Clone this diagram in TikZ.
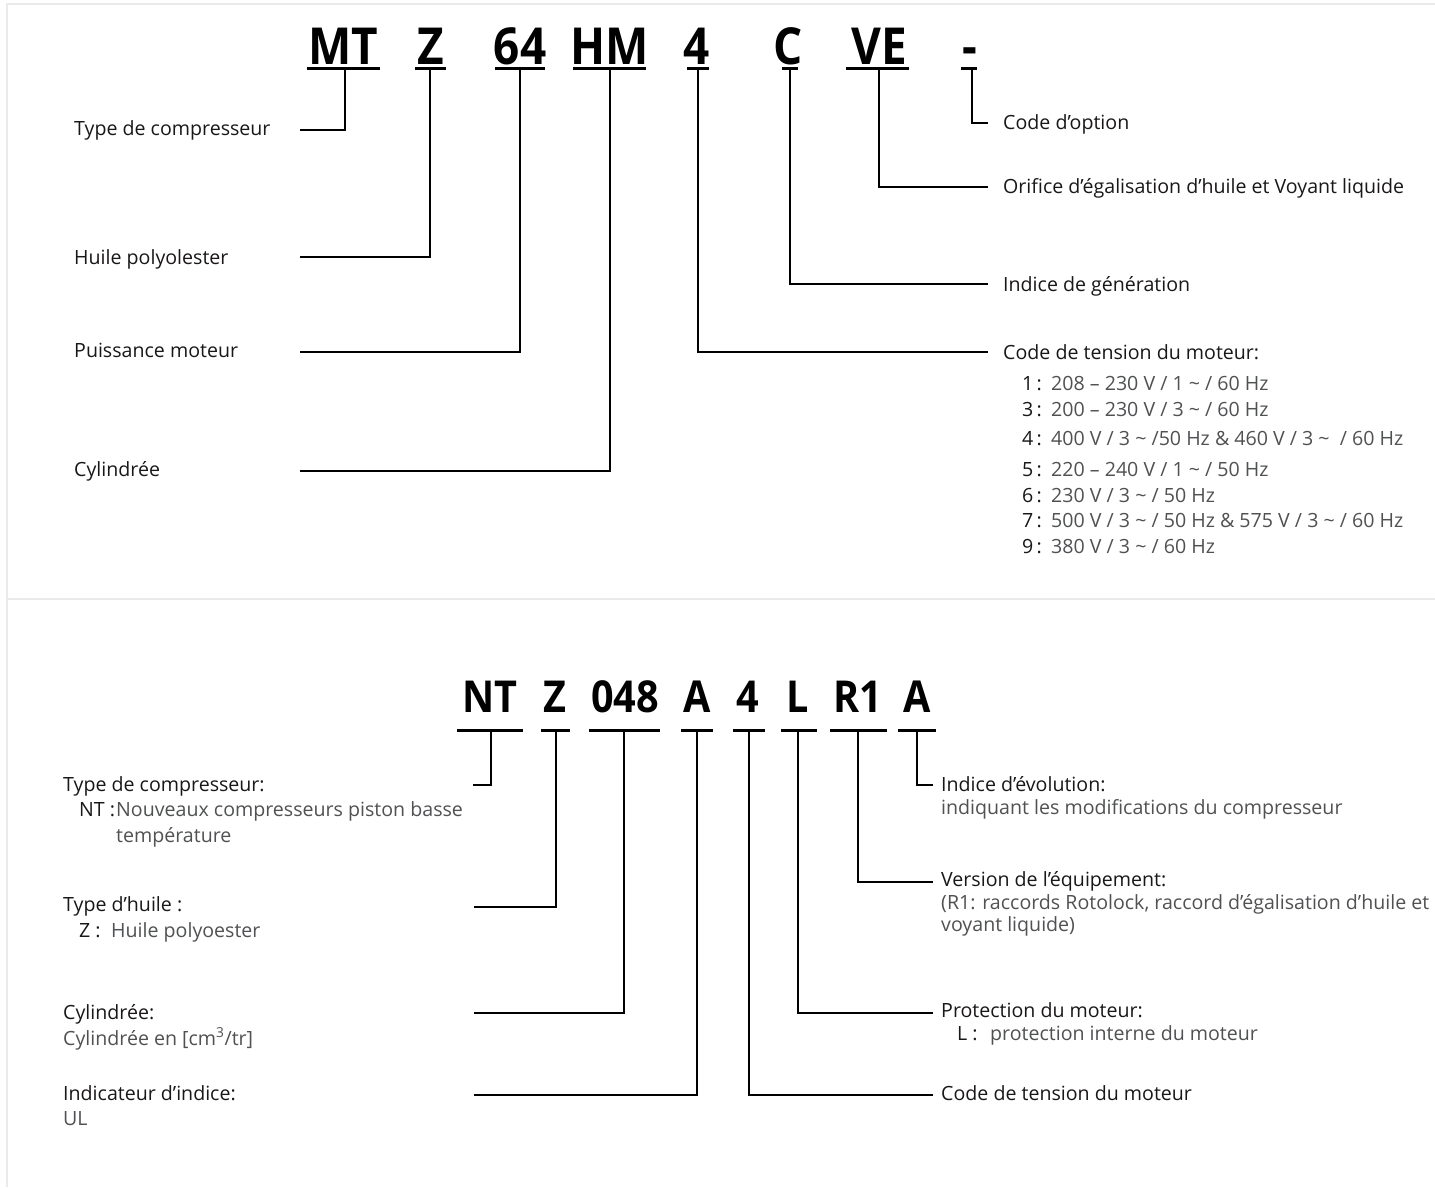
\documentclass[tikz,border=0pt]{standalone}
\usepackage{fontspec}
\setmainfont{Open Sans}
\definecolor{dark}{HTML}{1A1718}
\definecolor{greytxt}{HTML}{505153}
\definecolor{framec}{HTML}{E8EAEC}
\tikzset{
  lbl/.style={anchor=base west,inner sep=0pt,text=dark,font=\fontsize{19.6}{23}\selectfont},
  desc/.style={anchor=base west,inner sep=0pt,text=greytxt,font=\fontsize{19.6}{23}\selectfont},
  num/.style={anchor=base east,inner sep=0pt,text=dark,font=\fontsize{19.6}{23}\selectfont},
  hdrA/.style={anchor=base,inner sep=0pt,text=black,font=\fontsize{51}{51}\selectfont\bfseries},
  hdrB/.style={anchor=base,inner sep=0pt,text=black,font=\fontsize{44}{44}\selectfont\bfseries},
  uline/.style={line width=3pt,black},
  conn/.style={line width=2.5pt,black,line join=miter},
  framel/.style={line width=2pt,framec}
}
\begin{document}
\begin{tikzpicture}[x=1pt,y=-1pt]
\useasboundingbox (0,0) rectangle (1435,1187);
\fill[white] (0,0) rectangle (1435,1187);
% frame
\coordinate (f1) at (7,1187);
\coordinate (f2) at (7,4);
\coordinate (f3) at (1435,4);
\coordinate (s1) at (7,599);
\coordinate (s2) at (1435,599);
\draw[framel] (f1) -- (f2) -- (f3);
\draw[framel] (s1) -- (s2);

% ===== Top section headers =====
\node[hdrA] (hMT) at (343,64) {\scalebox{0.9}[1]{MT}};
\node[hdrA] (hZ) at (431,64) {\scalebox{0.9}[1]{Z}};
\node[hdrA] (h64) at (520,64) {\scalebox{0.9}[1]{64}};
\node[hdrA] (hHM) at (610,64) {\scalebox{0.9}[1]{HM}};
\node[hdrA] (h4) at (697,64) {\scalebox{0.9}[1]{4}};
\node[hdrA] (hC) at (788,64) {\scalebox{0.9}[1]{C}};
\node[hdrA] (hVE) at (879,64) {\scalebox{0.9}[1]{VE}};
\node[hdrA] (hD) at (970,64) {\scalebox{0.9}[1]{-}};

% underlines
\draw[uline] (307,68) -- (380,68);
\draw[uline] (415,68) -- (446,68);
\draw[uline] (495,68) -- (545,68);
\draw[uline] (573,68) -- (646,68);
\draw[uline] (687,68) -- (709,68);
\draw[uline] (782,68) -- (798,68);
\draw[uline] (846,68) -- (909,68);
\draw[uline] (961,68) -- (977,68);

% top anchors
\coordinate (tMT) at (345,68);
\coordinate (tZ) at (430,68);
\coordinate (t64) at (520,68);
\coordinate (tHM) at (610,68);
\coordinate (t4) at (698,68);
\coordinate (tC) at (790,68);
\coordinate (tVE) at (879,68);
\coordinate (tD) at (972,68);

% left labels
\node[lbl] (lType) at (74,135) {Type de compresseur};
\node[lbl] (lHuile) at (74,264) {Huile polyolester};
\node[lbl] (lPuis) at (74,357) {Puissance moteur};
\node[lbl] (lCyl) at (74,476) {Cylindrée};
\coordinate (eType) at (300,130);
\coordinate (eHuile) at (300,257);
\coordinate (ePuis) at (300,352);
\coordinate (eCyl) at (300,471);

% right labels
\node[lbl] (rOpt) at (1003,129) {Code d'option};
\node[lbl] (rOri) at (1003,193) {Orifice d'égalisation d'huile et Voyant liquide};
\node[lbl] (rGen) at (1003,291) {Indice de génération};
\node[lbl] (rTen) at (1003,359) {Code de tension du moteur:};
\coordinate (eOpt) at (988,123);
\coordinate (eOri) at (988,187);
\coordinate (eGen) at (988,284);
\coordinate (eTen) at (988,352);

% top connectors
\draw[conn] (tMT) |- (eType);
\draw[conn] (tZ) |- (eHuile);
\draw[conn] (t64) |- (ePuis);
\draw[conn] (tHM) |- (eCyl);
\draw[conn] (t4) |- (eTen);
\draw[conn] (tC) |- (eGen);
\draw[conn] (tVE) |- (eOri);
\draw[conn] (tD) |- (eOpt);

% voltage list
\node[num] (n1) at (1042,390) {1\,:};
\node[desc] (v1) at (1051,390) {208 – 230 V / 1 \textasciitilde{} / 60 Hz};
\node[num] (n3) at (1042,416) {3\,:};
\node[desc] (v3) at (1051,416) {200 – 230 V / 3 \textasciitilde{} / 60 Hz};
\node[num] (n4) at (1042,445) {4\,:};
\node[desc] (v4) at (1051,445) {400 V / 3 \textasciitilde{} /50 Hz \& 460 V / 3 \textasciitilde{} \ / 60 Hz};
\node[num] (n5) at (1042,476) {5\,:};
\node[desc] (v5) at (1051,476) {220 – 240 V / 1 \textasciitilde{} / 50 Hz};
\node[num] (n6) at (1042,502) {6\,:};
\node[desc] (v6) at (1051,502) {230 V / 3 \textasciitilde{} / 50 Hz};
\node[num] (n7) at (1042,527) {7\,:};
\node[desc] (v7) at (1051,527) {500 V / 3 \textasciitilde{} / 50 Hz \& 575 V / 3 \textasciitilde{} / 60 Hz};
\node[num] (n9) at (1042,553) {9\,:};
\node[desc] (v9) at (1051,553) {380 V / 3 \textasciitilde{} / 60 Hz};

% ===== Bottom section =====
\node[hdrB] (bNT) at (490,712) {\scalebox{0.9}[1]{NT}};
\node[hdrB] (bZ) at (555,712) {\scalebox{0.9}[1]{Z}};
\node[hdrB] (b048) at (625,712) {\scalebox{0.9}[1]{048}};
\node[hdrB] (bA) at (697,712) {\scalebox{0.9}[1]{A}};
\node[hdrB] (b4) at (748,712) {\scalebox{0.9}[1]{4}};
\node[hdrB] (bL) at (798,712) {\scalebox{0.9}[1]{L}};
\node[hdrB] (bR1) at (858,712) {\scalebox{0.9}[1]{R1}};
\node[hdrB] (bA2) at (917,712) {\scalebox{0.9}[1]{A}};

\draw[uline] (457,730) -- (523,730);
\draw[uline] (541,730) -- (570,730);
\draw[uline] (589,730) -- (660,730);
\draw[uline] (681,730) -- (713,730);
\draw[uline] (733,730) -- (765,730);
\draw[uline] (781,730) -- (817,730);
\draw[uline] (830,730) -- (887,730);
\draw[uline] (898,730) -- (936,730);

\coordinate (uNT) at (491,730);
\coordinate (uZ) at (556,730);
\coordinate (u048) at (624,730);
\coordinate (uA) at (697,730);
\coordinate (u4) at (749,730);
\coordinate (uL) at (798,730);
\coordinate (uR1) at (858,730);
\coordinate (uA2) at (917,730);

\coordinate (eNT) at (473,785);
\coordinate (eZb) at (474,907);
\coordinate (e048) at (474,1013);
\coordinate (eAb) at (474,1095);
\coordinate (e4b) at (933,1095);
\coordinate (eLb) at (933,1013);
\coordinate (eR1) at (933,882);
\coordinate (eA2) at (933,785);

\draw[conn] (uNT) |- (eNT);
\draw[conn] (uZ) |- (eZb);
\draw[conn] (u048) |- (e048);
\draw[conn] (uA) |- (eAb);
\draw[conn] (u4) |- (e4b);
\draw[conn] (uL) |- (eLb);
\draw[conn] (uR1) |- (eR1);
\draw[conn] (uA2) |- (eA2);

% bottom left texts
\node[lbl] (btType) at (63,791) {Type de compresseur:};
\node[lbl] (btNT) at (79,816) {NT :};
\node[desc] (btNTd) at (116,816) {Nouveaux compresseurs piston basse};
\node[desc] (btNTd2) at (116,842) {température};
\node[lbl] (btHuile) at (63,911) {Type d’huile :};
\node[lbl] (btZ) at (79,937) {Z :};
\node[desc] (btZd) at (111,937) {Huile polyoester};
\node[lbl] (btCyl) at (63,1019) {Cylindrée:};
\node[desc] (btCyld) at (63,1045) {Cylindrée en [cm\textsuperscript{3}/tr]};
\node[lbl] (btInd) at (63,1100) {Indicateur d’indice:};
\node[desc] (btIndd) at (63,1125) {UL};

% bottom right texts
\node[lbl] (brEvo) at (941,791) {Indice d’évolution:};
\node[desc] (brEvod) at (941,814) {indiquant les modifications du compresseur};
\node[lbl] (brVer) at (941,886) {Version de l’équipement:};
\node[desc] (brVerd) at (941,909) {(R1: raccords Rotolock, raccord d’égalisation d’huile et};
\node[desc] (brVerd2) at (941,931) {voyant liquide)};
\node[lbl] (brPro) at (941,1017) {Protection du moteur:};
\node[lbl] (brL) at (957,1040) {L :};
\node[desc] (brLd) at (990,1040) {protection interne du moteur};
\node[lbl] (brTen) at (941,1100) {Code de tension du moteur};
\end{tikzpicture}
\end{document}
